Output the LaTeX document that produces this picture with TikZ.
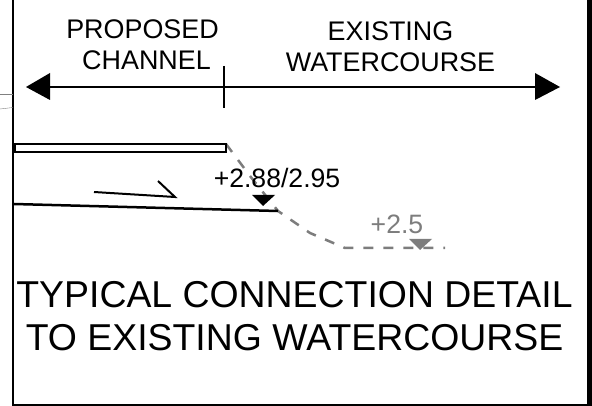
\documentclass[tikz,border=0pt]{standalone}
\usepackage{fontspec}
\setmainfont{Liberation Sans}
\newcommand*{\xMin}{0}
\newcommand*{\xMax}{592}
\newcommand*{\yMin}{0}
\newcommand*{\yMax}{406}
\definecolor{levelgray}{RGB}{125,125,125}
\tikzset{
	label/.style={inner sep=0pt,align=center,font=\fontsize{26.9}{31}\selectfont},
	title/.style={inner sep=0pt,align=center,font=\fontsize{37.4}{43}\selectfont},
	level/.style={inner sep=0pt,font=\fontsize{26.6}{30}\selectfont},
}
\begin{document}
\begin{tikzpicture}[x=1pt,y=-1pt]
	\useasboundingbox (\xMin,\yMin) rectangle (\xMax,\yMax);
	
	% frame
	\draw [line width=2.5pt] (13,\yMin) -- (13,\yMax);
	\draw [line width=5pt] (589.5,\yMin) -- (589.5,\yMax);
	\draw [line width=2pt] (13,405) -- (\xMax,405);
	\draw [thin,gray] (\xMin,94) -- (13,94);
	\draw [thin,gray] (\xMin,109) -- (13,107.5);
	
	% headings
	\node [label] (proposed) at (142.5,29) {PROPOSED};
	\node [label] (channel) at (146.5,60) {CHANNEL};
	\node [label] (existing) at (390.5,47) {EXISTING\\WATERCOURSE};
	
	% extent arrows
	\coordinate (leftEnd) at (50,87);
	\coordinate (rightEnd) at (535,87);
	\coordinate (tickTop) at (223.5,66);
	\coordinate (tickBottom) at (223.5,108);
	\draw [line width=2.5pt] (leftEnd) -- (rightEnd);
	\draw [line width=2pt] (tickTop) -- (tickBottom);
	\fill (26,87) -- (leftEnd |- 0,73) -- (leftEnd |- 0,100) -- cycle;
	\fill (560,87) -- (rightEnd |- 0,73) -- (rightEnd |- 0,100) -- cycle;
	
	% existing bank
	\coordinate (bankTop) at (226,144);
	\coordinate (bankToe) at (278,211);
	\draw [levelgray,line width=2.5pt,dash pattern=on 10pt off 10pt] (bankTop) -- (250,176) -- (bankToe) -- (310,233) -- (345,248) -- (445,248);
	
	% channel
	\draw [line width=2.5pt] (15,144) rectangle (226,152);
	\coordinate (bedStart) at (14,204);
	\draw [line width=2.5pt] (bedStart) -- (bankToe);
	\coordinate (flowStart) at (94,192);
	\coordinate (flowEnd) at (175,197);
	\coordinate (flowBarb) at (158,181);
	\draw [line width=2pt] (flowStart) -- (flowEnd) -- (flowBarb);
	
	% levels
	\node [level] (proposedLevel) at (277,178) {+2.88/2.95};
	\fill (252,195) -- (275,195) -- (263,206) -- cycle;
	\node [level,levelgray] (existingLevel) at (397,224) {+2.5};
	\fill [levelgray] (409,239) -- (432,239) -- (420,250) -- cycle;
	
	\node [title] (caption) at (294.5,316) {TYPICAL CONNECTION DETAIL\\TO EXISTING WATERCOURSE};
\end{tikzpicture}
\end{document}
